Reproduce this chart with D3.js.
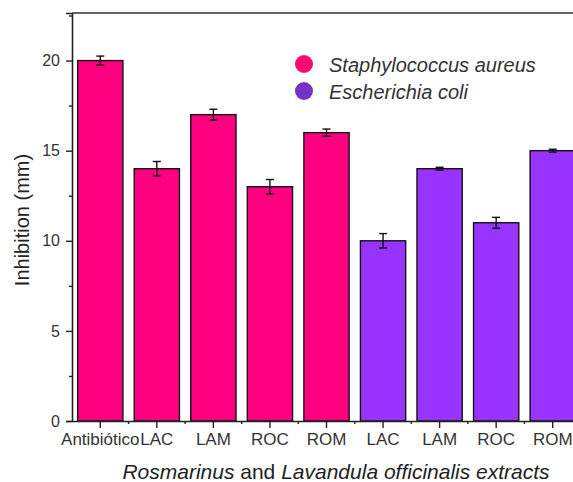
<!DOCTYPE html>
<html><head><meta charset="utf-8">
<script src="https://cdn.jsdelivr.net/npm/d3@7"></script>
<style>body{margin:0;background:#fff;}svg{display:block;font-family:"Liberation Sans",Arial,sans-serif;}</style>
</head><body><svg id="c" width="573" height="482"></svg>
<script>
const categories = ["Antibiótico","LAC","LAM","ROC","ROM","LAC","LAM","ROC","ROM"];
const series = ["Staphylococcus aureus","Staphylococcus aureus","Staphylococcus aureus","Staphylococcus aureus","Staphylococcus aureus","Escherichia coli","Escherichia coli","Escherichia coli","Escherichia coli"];
const values = [20, 14, 17, 13, 16, 10, 14, 11, 15];
const errors = [0.25, 0.4, 0.3, 0.4, 0.2, 0.4, 0.08, 0.3, 0.08];
const yTicks = [0, 5, 10, 15, 20];
const legendNames = ["Staphylococcus aureus","Escherichia coli"];
const barColors = {"Staphylococcus aureus":"#FF0080","Escherichia coli":"#9933FF"};
const legendColors = {"Staphylococcus aureus":"#FF0A6E","Escherichia coli":"#7433C4"};

const svg = d3.select("#c");
const x = d3.scaleBand().domain(d3.range(categories.length)).range([72, 581]).paddingInner(0.2).paddingOuter(0.1);
const y = d3.scaleLinear().domain([0, 22.64]).range([421, 13]);

// bars
svg.append("g").selectAll("rect").data(values).join("rect")
  .attr("x", (d,i)=>x(i)).attr("width", x.bandwidth())
  .attr("y", d=>y(d)).attr("height", d=>y(0)-y(d))
  .attr("fill", (d,i)=>barColors[series[i]]).attr("stroke","#111").attr("stroke-width",1.4);

// error bars
const eg = svg.append("g").attr("stroke","#111").attr("stroke-width",1.4);
values.forEach((v,i)=>{
  const cx = x(i)+x.bandwidth()/2;
  eg.append("line").attr("x1",cx).attr("x2",cx).attr("y1",y(v+errors[i])).attr("y2",y(v-errors[i]));
  eg.append("line").attr("x1",cx-4).attr("x2",cx+4).attr("y1",y(v+errors[i])).attr("y2",y(v+errors[i]));
  eg.append("line").attr("x1",cx-4).attr("x2",cx+4).attr("y1",y(v-errors[i])).attr("y2",y(v-errors[i]));
});

// y axis
const yAxis = d3.axisLeft(y).tickValues(yTicks).tickSizeOuter(0).tickSize(6).tickPadding(6);
const gy = svg.append("g").attr("transform","translate(72,0)").call(yAxis);
gy.select(".domain").attr("stroke","#222").attr("stroke-width",1.6);
gy.selectAll(".tick line").attr("stroke","#222").attr("stroke-width",1.4);
gy.selectAll(".tick text").attr("font-size",16).attr("fill","#333").attr("font-family","Liberation Sans, Arial, sans-serif");
const yMinor = d3.axisLeft(y).tickValues([2.5,7.5,12.5,17.5,22.5]).tickSize(3).tickFormat("");
const gym = svg.append("g").attr("transform","translate(72,0)").call(yMinor);
gym.select(".domain").remove();
gym.selectAll(".tick line").attr("stroke","#222").attr("stroke-width",1.4);

// x axis
const xAxis = d3.axisBottom(x).tickFormat(i=>categories[i]).tickSize(7).tickSizeOuter(0).tickPadding(5);
const gx = svg.append("g").attr("transform","translate(0,421)").call(xAxis);
gx.select(".domain").attr("stroke","#222").attr("stroke-width",1.6);
gx.selectAll(".tick line").attr("stroke","#222").attr("stroke-width",1.4);
gx.selectAll(".tick text").attr("font-size",17).attr("fill","#333").attr("font-family","Liberation Sans, Arial, sans-serif");
// minor x ticks at band boundaries
const bounds = d3.range(1, categories.length).map(i => x(i) - x.step()*x.paddingInner()/2);
svg.append("g").selectAll("line").data(bounds).join("line")
  .attr("x1",d=>d).attr("x2",d=>d).attr("y1",421).attr("y2",424)
  .attr("stroke","#222").attr("stroke-width",1.4);

// top frame line
svg.append("line").attr("x1",72).attr("x2",581).attr("y1",y(22.64)).attr("y2",y(22.64))
  .attr("stroke","#333").attr("stroke-width",1.6);

// axis titles
svg.append("text").attr("transform","translate(29,220) rotate(-90)").attr("text-anchor","middle")
  .attr("font-size",20).attr("fill","#222").text("Inhibition (mm)");
const xt = svg.append("text").attr("x",336).attr("y",479).attr("text-anchor","middle")
  .attr("font-size",21).attr("fill","#222");
xt.append("tspan").attr("font-style","italic").text("Rosmarinus");
xt.append("tspan").text(" and ");
xt.append("tspan").attr("font-style","italic").text("Lavandula officinalis extracts");

// legend
const lg = svg.append("g");
legendNames.forEach((n,k)=>{
  const cy = 64 + k*27;
  lg.append("circle").attr("cx",304).attr("cy",cy).attr("r",9).attr("fill",legendColors[n]);
  lg.append("text").attr("x",329).attr("y",cy+7.5).attr("font-size",20).attr("font-style","italic")
    .attr("fill","#333").text(n);
});
</script></body></html>
